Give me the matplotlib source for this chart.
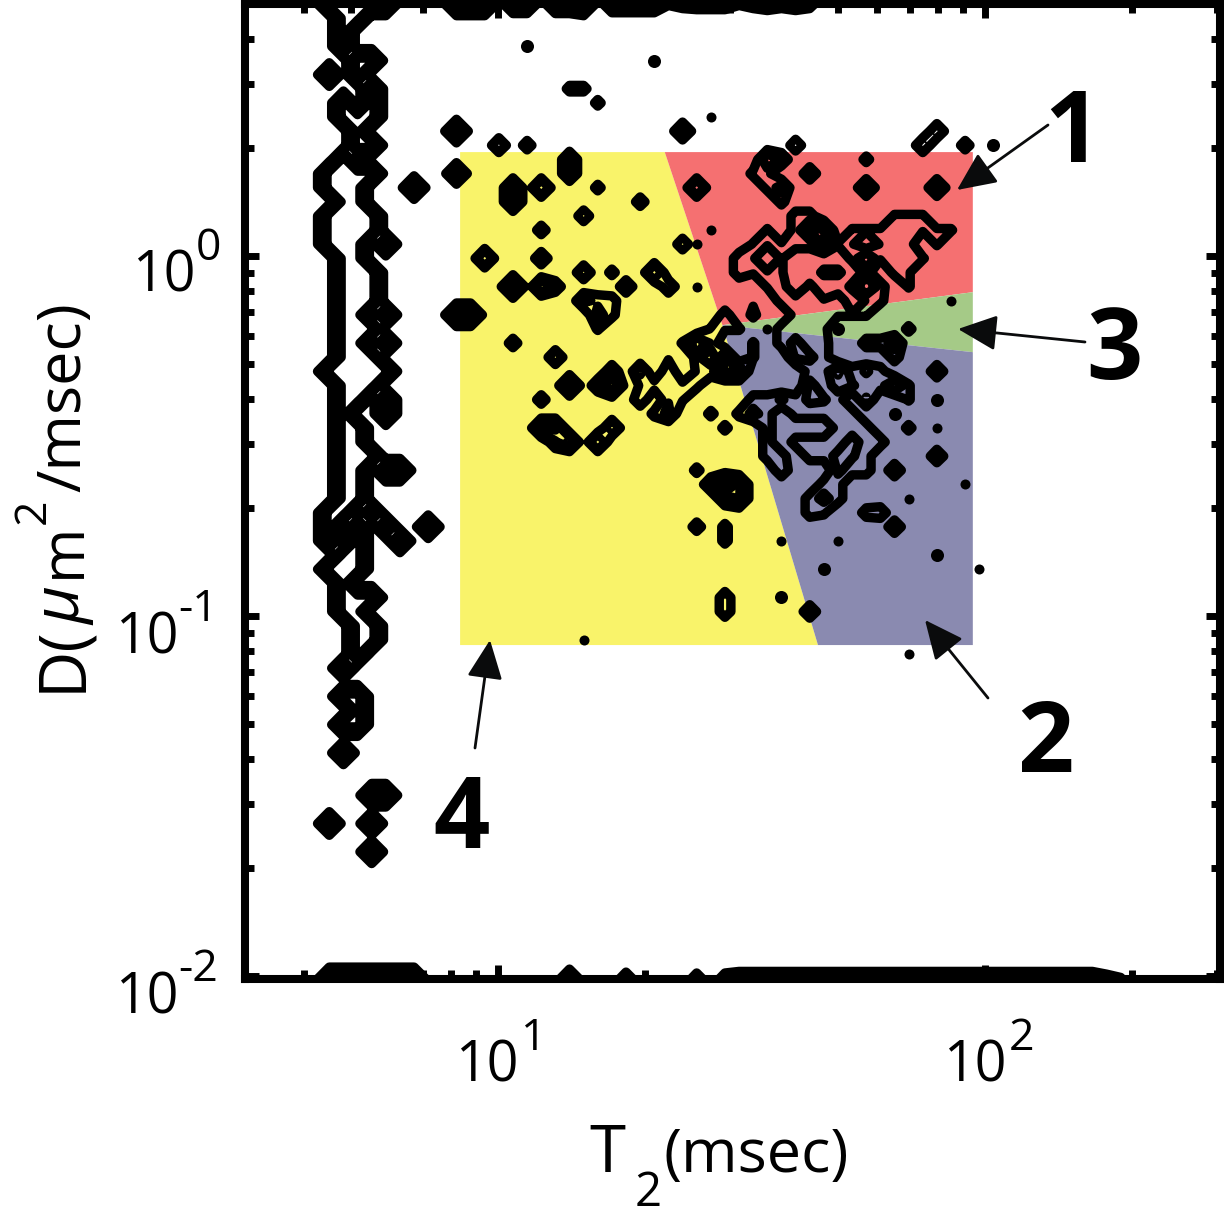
import numpy as np
import matplotlib
matplotlib.use("Agg")
import matplotlib.pyplot as plt

W, H = 1224, 1219
plt.rcParams['font.family'] = ['Open Sans', 'DejaVu Sans']

# measured map on a 70 x 70 log grid, most cells are empty
t2_grid = np.logspace(0.4795, 2.4815, 70)
d_grid = np.logspace(0.7003, -2.008, 70)
levels = [1, 2, 3, 4, 5]

# full height cells of the left hand band, row: columns
band_rows = {
    0: [6, 7, 8, 9, 10], 1: [7, 8], 2: [7], 3: [7], 4: [8, 9], 5: [6, 8], 6: [9],
    7: [7, 9], 8: [7, 8, 9], 9: [8], 10: [8, 9], 11: [7], 12: [6, 7, 8, 9],
    13: [6, 7, 8, 12], 14: [7, 8], 15: [6, 7, 8, 9], 16: [6, 7, 8, 9], 17: [6, 7, 8, 10],
    18: [7, 8], 19: [7, 8, 9], 20: [7, 8, 9], 21: [7, 8, 9], 22: [7, 8, 10],
    23: [7, 8, 9], 24: [7, 8, 10], 25: [7, 8, 9], 26: [6, 7, 8, 9, 10], 27: [7, 8, 9],
    28: [7, 8, 10], 29: [7, 10], 30: [7, 8], 31: [7, 8], 32: [7, 8, 9], 33: [7, 8, 10, 11],
    34: [7, 8], 35: [7, 8], 36: [6, 7, 9], 37: [6, 8, 10, 13], 38: [6, 8, 11], 39: [7, 8],
    40: [6, 7, 8], 41: [7], 42: [7, 8, 9], 43: [7, 8], 44: [8, 9], 45: [8, 9], 46: [8],
    47: [7], 49: [7, 8], 50: [8], 51: [7, 8], 53: [7], 56: [9, 10], 58: [6, 9], 60: [9],
    69: [6, 7, 8, 9, 10, 11, 12],
}
# region round the centre of the map, row: columns
core_rows = {
    24: [38, 39, 40, 41], 25: [39, 40, 41], 26: [40, 41, 42, 43, 44, 45],
    27: [40, 41, 42, 43, 44, 45], 28: [36, 37, 38, 39, 40, 41, 42],
    29: [36, 37, 38, 39, 40, 41, 42, 43], 30: [37, 38, 39, 40, 41, 42, 43, 44],
    31: [37, 38, 39, 40, 41, 42, 43, 44, 45], 32: [37, 38, 40, 41, 42, 43, 44],
    33: [38, 42, 43, 44], 34: [41, 42], 35: [40, 41, 42], 36: [40],
}
core_gaps = [(38, 29), (38, 30), (39, 30), (40, 30), (41, 30), (38, 31)]

cells_600 = [(15, 9), (15, 22), (16, 22), (19, 20), (34, 34), (26, 27), (15, 0), (16, 0), (17, 0), (24, 0)]
cells_400 = [(15, 12), (23, 27)]
cells_320 = [(19, 13), (19, 14), (21, 13), (17, 18), (21, 20), (29, 19), (21, 30), (22, 30), (23, 31),
             (25, 31), (32, 13), (37, 11), (44, 18), (44, 20), (35, 34), (35, 35), (40, 16), (41, 16),
             (41, 17), (42, 26), (32, 24), (34, 25), (34, 26), (35, 26), (46, 27),
             (19, 0), (20, 0), (22, 0), (23, 0), (23, 69)]
cells_270 = [(31, 9), (44, 13), (49, 13), (26, 0), (27, 0), (28, 0), (29, 0)]
cells_245 = [(26, 30), (38, 13), (42, 27), (43, 31), (46, 24), (25, 22)]
cells_230 = [(23, 11), (23, 12), (24, 21), (40, 27), (42, 32), (41, 35), (39, 24), (36, 29), (28, 26), (30, 29)]
cells_220 = [(39, 25), (40, 25), (40, 28), (42, 33)]
cells_210 = [(18, 10), (24, 19), (22, 25), (33, 34), (34, 35), (43, 27), (38, 28), (44, 28),
             (41, 28), (43, 32), (44, 26), (48, 10), (49, 9),
             (35, 69), (36, 69), (37, 69), (38, 69), (39, 69), (40, 69),
             (41, 69), (42, 69), (43, 69), (44, 69), (45, 69), (46, 69), (47, 69), (48, 69), (49, 69),
             (50, 69), (51, 69), (52, 69), (53, 69), (54, 69), (55, 69), (56, 69), (57, 69), (58, 69),
             (59, 69), (60, 69)]
cells_190 = [(21, 18), (27, 20), (30, 20), (26, 26), (25, 27), (40, 12), (49, 26), (49, 32), (38, 11),
             (46, 33), (46, 37), (40, 43), (30, 26), (28, 28), (30, 28), (33, 24), (38, 33),
             (42, 21), (22, 31), (37, 0), (39, 0), (27, 69)]
cells_170 = [(22, 20), (34, 42), (34, 43), (31, 17), (35, 18), (35, 19), (45, 36), (39, 10), (25, 21),
             (24, 15), (33, 26), (32, 0), (33, 0), (34, 0), (34, 69), (32, 69)]
cells_150 = [(20, 10), (19, 24), (28, 14), (32, 37), (51, 10), (21, 28), (21, 16), (44, 36), (34, 22),
             (38, 20), (38, 21), (39, 21), (39, 22), (39, 23), (38, 23), (39, 15), (40, 15),
             (39, 16), (39, 17), (40, 17), (47, 17), (44, 24), (45, 24), (46, 25), (44, 19), (26, 21),
             (45, 20), (29, 27), (31, 0), (36, 0), (38, 0), (40, 0), (61, 69)]
cells_130 = [(25, 13), (23, 6), (24, 6), (25, 7), (26, 19), (34, 37), (34, 38), (33, 29), (34, 30), (35, 29),
             (32, 33), (47, 30), (36, 22), (44, 11), (32, 25), (32, 27), (31, 27), (30, 27), (29, 29),
             (40, 22), (41, 22), (40, 23), (41, 23), (43, 18), (46, 19), (45, 21), (36, 12), (37, 12),
             (37, 13), (38, 14), (41, 19), (42, 19), (43, 20), (40, 20), (40, 21), (47, 23), (26, 22)]
cells_120 = [(41, 36)]
cells_112 = [(35, 23), (36, 24), (36, 25), (34, 23), (33, 23), (31, 24), (32, 26), (28, 27), (31, 28),
             (36, 17), (36, 18), (36, 19), (37, 16), (37, 17),
             (37, 19), (37, 20), (38, 17), (38, 18), (38, 19), (43, 16), (44, 16), (45, 16), (43, 17),
             (42, 17), (45, 17), (45, 18), (46, 18), (44, 21), (44, 22), (43, 22), (42, 22), (41, 21),
             (46, 15), (47, 15), (48, 15), (48, 16), (49, 16), (50, 16), (49, 17), (48, 18), (47, 18),
             (47, 19), (47, 20), (47, 16), (46, 16), (46, 17), (30, 0), (35, 0), (62, 69), (25, 23),
             (47, 27), (47, 28)]
cells_080 = [(36, 21), (30, 25)]
# weak isolated points, too small to show a ring
spots_small = [(33, 8), (33, 16), (32, 20), (50, 21), (37, 23), (49, 30), (51, 34), (47, 35), (52, 40),
               (47, 46), (42, 38), (38, 38), (24, 45), (32, 17)]
spots_mid = [(49, 28), (20, 3), (29, 4), (49, 39), (41, 40), (38, 42), (46, 29), (53, 10), (42, 23)]

t2_regions = [[8.36, 22.0, 28.9, 45.4, 8.36], [22.0, 94.4, 94.4, 28.9],
              [28.9, 94.4, 94.4], [28.9, 94.4, 94.4, 45.4]]
d_regions = [[1.945, 1.945, 0.643, 0.0831, 0.0831], [1.945, 1.945, 0.794, 0.643],
             [0.643, 0.794, 0.541], [0.643, 0.541, 0.0831, 0.0831]]
region_colors = ['#f9f36a', '#f57071', '#a5ca87', '#8a8ab0']

t2_ticks = [10, 100]
d_ticks = [1, 0.1, 0.01]

z = np.zeros((70, 70))
for row, cols in core_rows.items():
    z[row, cols] = 1.5
for c, r in core_gaps:
    z[r, c] = 0
for val, cells in [(6, cells_600), (4.2, cells_400), (3.2, cells_320), (2.7, cells_270), (2.45, cells_245),
                   (2.3, cells_230), (2.2, cells_220), (2.1, cells_210), (1.9, cells_190), (1.7, cells_170),
                   (1.5, cells_150), (1.3, cells_130), (1.2, cells_120), (1.12, cells_112), (0.8, cells_080)]:
    for c, r in cells:
        z[r, c] = val
for row, cols in band_rows.items():
    z[row, cols] = 6


def px(x, y):
    return x / W, 1 - y / H


fig = plt.figure(figsize=(W / 100, H / 100), dpi=100)
ax = fig.add_axes([244.5 / W, 1 - 979 / H, 975 / W, 975 / H])
ax.set_xscale('log')
ax.set_yscale('log')
ax.set_xlim(t2_grid[0], t2_grid[-1])
ax.set_ylim(d_grid[-1], d_grid[0])

for xs, ys, col in zip(t2_regions, d_regions, region_colors):
    ax.fill(xs, ys, color=col, lw=0, zorder=1)

cs = ax.contour(t2_grid, d_grid[::-1], z[::-1], levels=levels, colors='k', linewidths=6.8, zorder=2)
cs.set_joinstyle('round')
cs.set_capstyle('round')

for spots, size in [(spots_small, 52), (spots_mid, 88)]:
    cols, rows = zip(*spots)
    ax.scatter(t2_grid[list(cols)], d_grid[list(rows)], s=size, c='k', linewidths=0, zorder=2)

for s in ax.spines.values():
    s.set_linewidth(5.8)
    s.set_zorder(5)
ax.tick_params(which='major', direction='in', length=10, width=5, top=True, right=True, labelbottom=False, labelleft=False)
ax.tick_params(which='minor', direction='in', length=6.5, width=5, top=True, right=True, labelbottom=False, labelleft=False)
ax.set_xticks(t2_ticks)
ax.set_yticks(d_ticks)

# tick labels
for xp, ex in zip([455, 943], ['1', '2']):
    fig.text(*px(xp, 1082), '10', fontsize=40, ha='left', va='baseline')
    fig.text(*px(xp + 66, 1050), ex, fontsize=32, ha='left', va='baseline')
for xp, yp, ex, xe in [(132, 292, '0', 196), (115, 653, '-1', 178), (115, 1013, '-2', 178)]:
    fig.text(*px(xp, yp), '10', fontsize=40, ha='left', va='baseline')
    fig.text(*px(xe, yp - 32), ex, fontsize=32, ha='left', va='baseline')

# axis titles
fig.text(*px(589, 1172), 'T', fontsize=47, ha='left', va='baseline')
fig.text(*px(635, 1206), '2', fontsize=34, ha='left', va='baseline')
fig.text(*px(664, 1172), '(msec)', fontsize=44, ha='left', va='baseline')
for xp, yp, s, fs, st in [(80, 692, 'D(', 47, 'normal'), (80, 625, 'μ', 47, 'italic'), (80, 578, 'm', 43, 'normal'),
                          (45, 524, '2', 32, 'normal'), (80, 492, '/msec)', 44, 'normal')]:
    fig.text(*px(xp, yp), s, fontsize=fs, style=st, rotation=90, ha='left', va='baseline', rotation_mode='anchor')

# region numbers and arrows
for s, xp, yp, xt, yt in [('1', 957, 190, 1048, 125), ('3', 958, 329, 1085, 342),
                          ('2', 925, 620, 988, 698), ('4', 490, 640, 475, 748)]:
    ax.annotate('', xy=px(xp, yp), xytext=px(xt, yt), xycoords='figure fraction', textcoords='figure fraction',
                arrowprops=dict(arrowstyle='-|>,head_length=1.2,head_width=0.55', color='#0a0b0c', lw=2, mutation_scale=20,
                                shrinkA=0, shrinkB=0), zorder=6)
for s, xp, yp in [('1', 1044, 162), ('3', 1086, 379), ('2', 1017, 772), ('4', 433, 848)]:
    fig.text(*px(xp, yp), s, fontsize=71, fontweight='bold', ha='left', va='baseline')

fig.savefig('out.png', dpi=100)
